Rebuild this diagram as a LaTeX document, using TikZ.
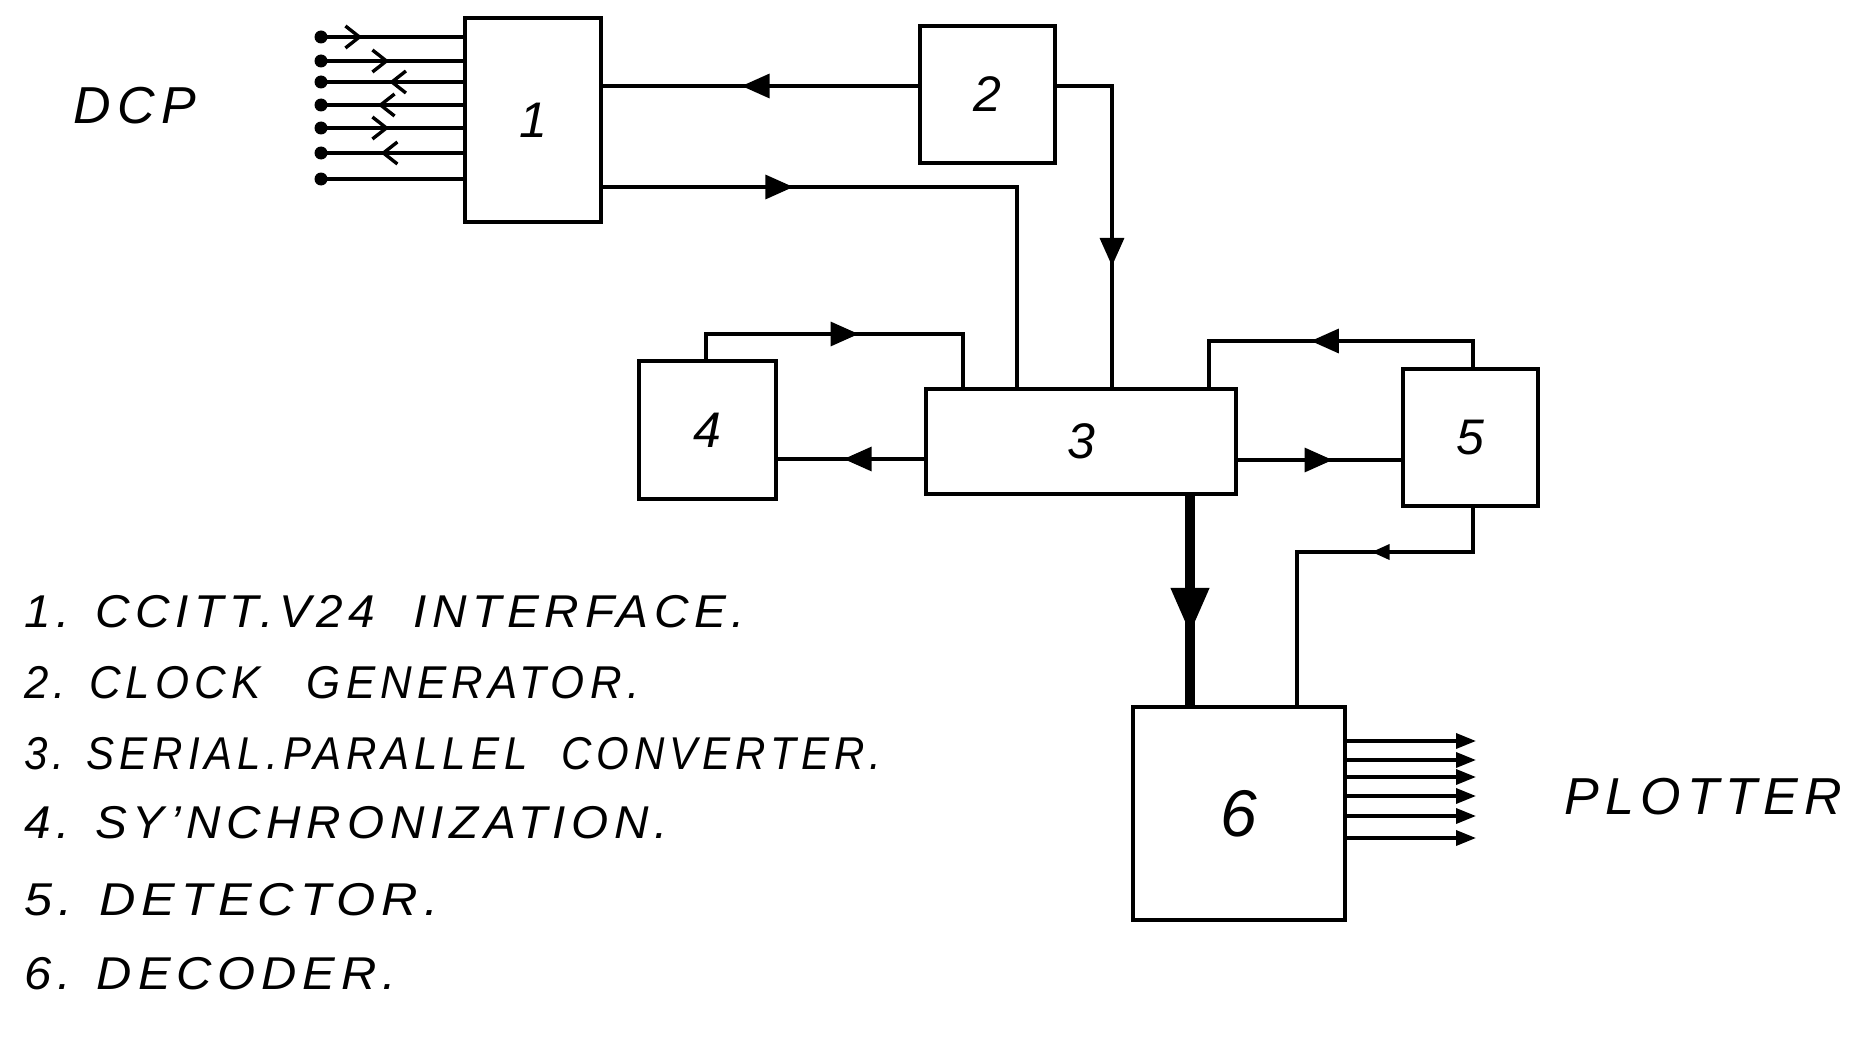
\documentclass[tikz,border=0pt]{standalone}
\usepackage{fontspec}
\setmainfont{Liberation Sans}
\newfontfamily\hand[LetterSpace=12]{Liberation Sans}
\usetikzlibrary{arrows.meta,decorations.markings,calc}
\begin{document}
\begin{tikzpicture}[x=1pt,y=-1pt,
  blk/.style={draw,line width=4pt,inner sep=0pt,font=\hand\itshape\fontsize{50}{50}\selectfont},
  wire/.style={line width=3.4pt},
  fwd/.style={postaction={decorate},decoration={markings,mark=at position #1 with {\arrow{Triangle[length=28pt,width=24pt]}}}},
  smallfwd/.style={postaction={decorate},decoration={markings,mark=at position #1 with {\arrow{Triangle[length=18pt,width=15pt]}}}},
  bigfwd/.style={postaction={decorate},decoration={markings,mark=at position #1 with {\arrow{Triangle[length=46pt,width=36pt]}}}},
  barb/.style={postaction={decorate},decoration={markings,mark=at position #1 with {\arrow{Straight Barb[length=14pt,width=22pt]}}}},
  dot/.style={circle,fill,inner sep=0pt,minimum size=13pt},
  leg/.style={font=\hand\itshape\fontsize{46}{46}\selectfont,inner sep=0pt,anchor=base west},
  big/.style={font=\hand\itshape\fontsize{52}{52}\selectfont,inner sep=0pt}
]
\useasboundingbox (0,0) rectangle (1855,1046);

% blocks
\node[blk,minimum width=136pt,minimum height=204pt] (b1) at (533,120) {1};
\node[blk,minimum width=135pt,minimum height=137pt] (b2) at (987.5,94.5) {2};
\node[blk,minimum width=310pt,minimum height=105pt] (b3) at (1081,441.5) {3};
\node[blk,minimum width=137pt,minimum height=138pt] (b4) at (707.5,430) {4};
\node[blk,minimum width=135pt,minimum height=137pt] (b5) at (1470.5,437.5) {5};
\node[blk,minimum width=212pt,minimum height=213pt,font=\hand\itshape\fontsize{66}{66}\selectfont] (b6) at (1239,813.5) {6};

% labels
\node[big] (dcp) at (135,106) {DCP};
\node[big] (plot) at (1703,797) {PLOTTER};

% bend points
\coordinate (k2) at (1112,86);
\coordinate (k1) at (1017,187);
\coordinate (k4a) at (706,334);
\coordinate (k4b) at (963,334);
\coordinate (k5a) at (1473,341);
\coordinate (k5b) at (1209,341);
\coordinate (k6a) at (1473,552);
\coordinate (k6b) at (1297,552);
\coordinate (c34) at (850,459);
\coordinate (c35) at (1320,460);
\coordinate (c36) at (1190,600);

% connectors
\draw[wire,fwd=0.56] (b2.west |- k2) -- (b1.east |- k2);
\draw[wire,fwd=0.66] (b2.east |- k2) -- (k2) -- (k2 |- b3.north);
\draw[wire,fwd=0.31] (b1.east |- k1) -- (k1) -- (k1 |- b3.north);
\draw[wire,fwd=0.53] (k4a |- b4.north) -- (k4a) -- (k4b) -- (k4b |- b3.north);
\draw[wire,fwd=0.55] (b3.west |- c34) -- (b4.east |- c34);
\draw[wire,fwd=0.58] (b3.east |- c35) -- (b5.west |- c35);
\draw[wire,fwd=0.56] (k5a |- b5.north) -- (k5a) -- (k5b) -- (k5b |- b3.north);
\draw[line width=10pt,bigfwd=0.66] (c36 |- b3.south) -- (c36 |- b6.north);
\draw[wire,smallfwd=0.39] (k6a |- b5.south) -- (k6a) -- (k6b) -- (k6b |- b6.north);

% DCP lines
\node[dot] (d1) at (321,37) {};
\node[dot] (d2) at (321,61) {};
\node[dot] (d3) at (321,82) {};
\node[dot] (d4) at (321,105) {};
\node[dot] (d5) at (321,128) {};
\node[dot] (d6) at (321,153) {};
\node[dot] (d7) at (321,179) {};
\draw[wire,barb=0.29] (d1.center) -- (d1 -| b1.west);
\draw[wire,barb=0.48] (d2.center) -- (d2 -| b1.west);
\draw[wire,barb=0.52] (d3 -| b1.west) -- (d3.center);
\draw[wire,barb=0.60] (d4 -| b1.west) -- (d4.center);
\draw[wire,barb=0.48] (d5.center) -- (d5 -| b1.west);
\draw[wire,barb=0.58] (d6 -| b1.west) -- (d6.center);
\draw[wire] (d7.center) -- (d7 -| b1.west);

% plotter outputs
\foreach \i/\yy in {1/741,2/760,3/777,4/796,5/816,6/838}{
  \coordinate (o\i) at (1476,\yy);
  \draw[wire,-{Triangle[length=20pt,width=15pt]}] (o\i -| b6.east) -- (o\i);
}

% legend
\node[leg] (l1) at (24,627) {\resizebox{721pt}{\height}{1. CCITT.V24\hspace{18pt} INTERFACE.}};
\node[leg] (l2) at (24,698) {\resizebox{615pt}{\height}{2. CLOCK\hspace{30pt} GENERATOR.}};
\node[leg] (l3) at (24,769) {\resizebox{857pt}{\height}{3. SERIAL.PARALLEL\hspace{18pt} CONVERTER.}};
\node[leg] (l4) at (24,838) {\resizebox{644pt}{\height}{4. SY’NCHRONIZATION.}};
\node[leg] (l5) at (24,915) {\resizebox{414pt}{\height}{5. DETECTOR.}};
\node[leg] (l6) at (24,989) {\resizebox{372pt}{\height}{6. DECODER.}};
\end{tikzpicture}
\end{document}
